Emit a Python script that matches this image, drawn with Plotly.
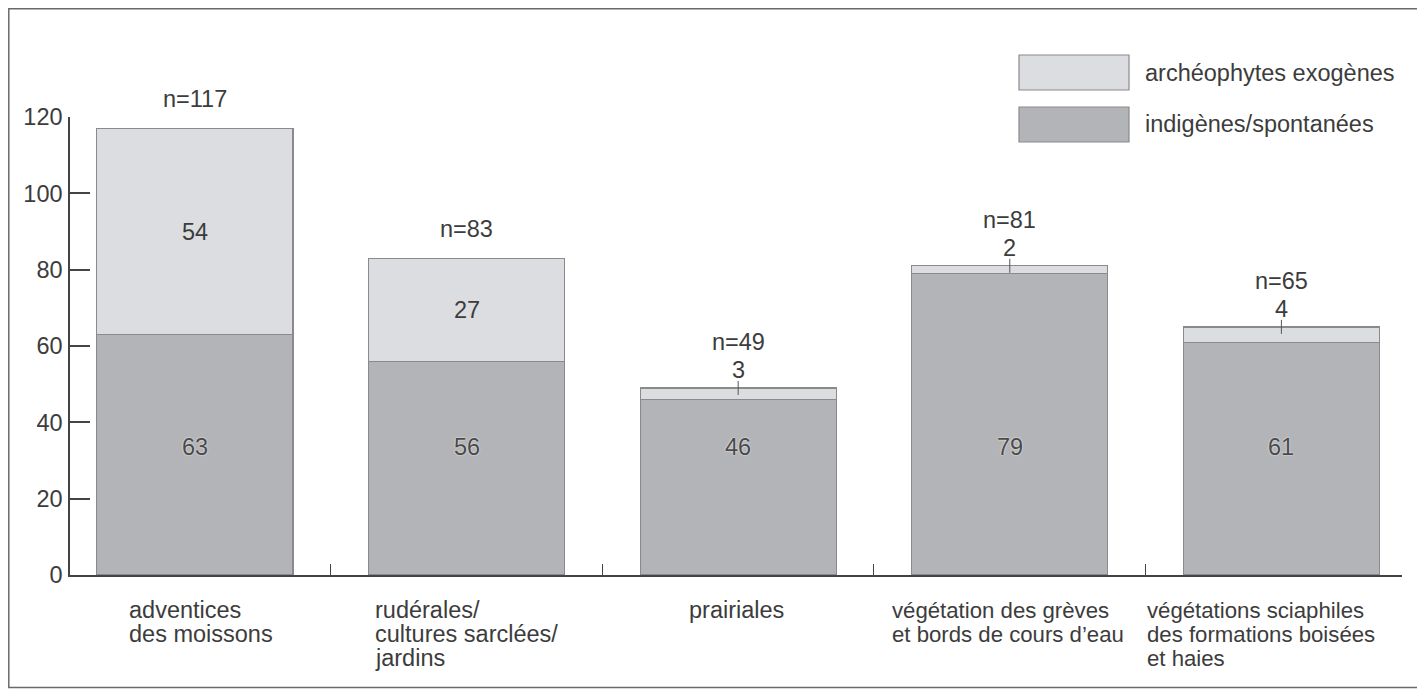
import plotly.graph_objects as go

categories = [
    "adventices<br>des moissons",
    "rudérales/<br>cultures sarclées/<br>jardins",
    "prairiales",
    "végétation des grèves<br>et bords de cours d’eau",
    "végétations sciaphiles<br>des formations boisées<br>et haies",
]
indigenes = [63, 56, 46, 79, 61]
archeophytes = [54, 27, 3, 2, 4]
series_names = ["indigènes/spontanées", "archéophytes exogènes"]
y_ticks = [0, 20, 40, 60, 80, 100, 120]

# page geometry (browser body has an 8px margin, so the figure is 8px smaller)
PAGE_OFF = 8
W, H = 1425 - PAGE_OFF, 693 - PAGE_OFF
L, R, T, B = 70, 1402, 117, 575          # plot area in page pixels
TXT = "#3c3c3c"
FONT = "Liberation Sans, Arial, sans-serif"
FS = 23.5
DARK = "#b3b4b7"
LIGHT = "#dcdde0"
EDGE = "#8a8a8a"
BAR_W = 0.722
X_RANGE = [-0.46, 4.444]
LABEL_OFFSETS = [-0.250, -0.345, -0.189, -0.441, -0.502]  # left edge of label block vs bar centre
LABEL_FS = [23.5, 23.5, 23.5, 22.2, 22.2]
LINE_H = 24


def px(xp):
    return (xp - L) / (R - L)


def py(yp):
    return (B - yp) / (B - T)


xs = list(range(len(categories)))
totals = [a + b for a, b in zip(indigenes, archeophytes)]

fig = go.Figure()
fig.add_trace(go.Bar(x=xs, y=indigenes, name=series_names[0], width=BAR_W,
                     marker=dict(color=DARK, line=dict(color=EDGE, width=1.2))))
fig.add_trace(go.Bar(x=xs, y=archeophytes, name=series_names[1], width=BAR_W,
                     marker=dict(color=LIGHT, line=dict(color=EDGE, width=1.2))))

ann = []
shapes = []
for i, cat in enumerate(categories):
    for k, line in enumerate(cat.split("<br>")):
        ann.append(dict(x=i + LABEL_OFFSETS[i], y=0, xref="x", yref="y", text=line,
                        showarrow=False, xanchor="left", yanchor="middle",
                        yshift=-35 - k * LINE_H,
                        font=dict(size=LABEL_FS[i], color=TXT, family=FONT)))
    ann.append(dict(x=i, y=33.5, xref="x", yref="y", text=str(indigenes[i]), showarrow=False,
                    font=dict(size=FS, color="#4a4a4a", family=FONT, shadow="0px 0px 2px white")))
    tot = totals[i]
    a = archeophytes[i]
    if a >= 10:
        ann.append(dict(x=i, y=indigenes[i] + a / 2, xref="x", yref="y", text=str(a),
                        showarrow=False, font=dict(size=FS, color=TXT, family=FONT)))
        ann.append(dict(x=i, y=tot, xref="x", yref="y", text=f"n={tot}", showarrow=False,
                        yanchor="middle", yshift=29, font=dict(size=FS, color=TXT, family=FONT)))
    else:
        ann.append(dict(x=i, y=tot, xref="x", yref="y", text=str(a), showarrow=False,
                        yanchor="middle", yshift=18, font=dict(size=FS, color=TXT, family=FONT)))
        ann.append(dict(x=i, y=tot, xref="x", yref="y", text=f"n={tot}", showarrow=False,
                        yanchor="middle", yshift=46, font=dict(size=FS, color=TXT, family=FONT)))
        shapes.append(dict(type="line", xref="x", yref="y", ysizemode="pixel", yanchor=tot,
                           x0=i, x1=i, y0=-7, y1=7, line=dict(color="#555", width=1)))

# legend drawn manually (large swatches)
legend_items = [(series_names[1], LIGHT, 55, 90), (series_names[0], DARK, 107, 142)]
for name, col, y0, y1 in legend_items:
    shapes.append(dict(type="rect", xref="paper", yref="paper",
                       x0=px(1019), x1=px(1129), y0=py(y1), y1=py(y0),
                       fillcolor=col, line=dict(color=EDGE, width=1.2)))
    ann.append(dict(x=px(1143), y=py((y0 + y1) / 2), xref="paper", yref="paper", text=name,
                    showarrow=False, xanchor="left", yanchor="middle",
                    font=dict(size=FS, color=TXT, family=FONT)))

# outer frame
shapes.append(dict(type="rect", xref="paper", yref="paper", layer="below",
                   x0=px(8.8), x1=px(1419.5), y0=py(687.5), y1=py(8.8),
                   line=dict(color="#6a6a6a", width=1.5), fillcolor="rgba(0,0,0,0)"))

fig.update_layout(
    width=W, height=H, barmode="stack", showlegend=False,
    paper_bgcolor="white", plot_bgcolor="white",
    margin=dict(l=L - PAGE_OFF, r=W - (R - PAGE_OFF), t=T - PAGE_OFF, b=H - (B - PAGE_OFF), pad=0),
    font=dict(family=FONT, color=TXT, size=FS),
    annotations=ann, shapes=shapes,
)
fig.update_xaxes(range=X_RANGE, showgrid=False, zeroline=False,
                 showline=True, linecolor="#444", linewidth=1.5,
                 tickmode="array", tickvals=[0.5, 1.5, 2.5, 3.5, X_RANGE[1]],
                 ticktext=["", "", "", "", ""], ticks="inside", ticklen=11,
                 tickwidth=1.2, tickcolor="#444")
fig.update_yaxes(range=[0, 120], showgrid=False, zeroline=False,
                 showline=True, linecolor="#444", linewidth=1.5,
                 tickmode="array", tickvals=y_ticks, ticks="inside", ticklen=20,
                 tickwidth=1.5, tickcolor="#444", ticklabelstandoff=1,
                 tickfont=dict(size=FS, color=TXT, family=FONT))

fig.write_html("out.html")
